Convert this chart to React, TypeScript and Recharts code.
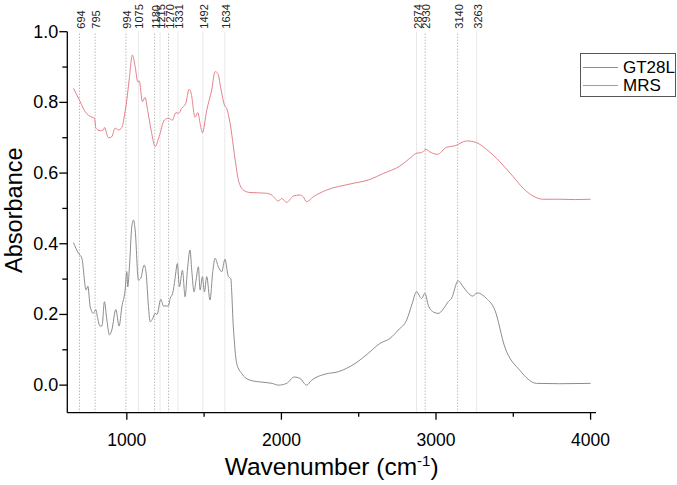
import { LineChart, Line, XAxis, YAxis, ReferenceLine, Legend, Label } from "recharts"

const FONT = '"Liberation Sans", Arial, Helvetica, sans-serif'

// assigned band positions (cm-1)
const peakMarks = [694, 795, 994, 1075, 1180, 1215, 1270, 1331, 1492, 1634, 2874, 2930, 3140, 3263]
const faintMarks = [1075, 1215, 1331, 1492, 1634, 2874, 3263]

const xTicks = [1000, 1500, 2000, 2500, 3000, 3500, 4000]
const xLabeled = [1000, 2000, 3000, 4000]
const yTicks = [0, 0.1, 0.2, 0.3, 0.4, 0.5, 0.6, 0.7, 0.8, 0.9, 1.0]

// MRS spectrum
const mrsWave = [
  655, 698, 730, 774, 791, 800, 827, 849, 855, 881, 903, 924, 946, 968, 985, 1000, 1015, 1036, 1054, 1071,
  1080, 1101, 1118, 1136, 1157, 1183, 1209, 1243, 1269, 1295, 1317, 1334, 1355, 1381, 1403, 1416, 1441, 1459,
  1474, 1489, 1517, 1549, 1571, 1588, 1610, 1631, 1646, 1668, 1700, 1722, 1754, 1797, 1905, 1937, 1980, 2002,
  2034, 2077, 2120, 2141, 2163, 2206, 2293, 2443, 2573, 2659, 2767, 2831, 2874, 2907, 2935, 2960, 3008, 3069,
  3122, 3198, 3262, 3327, 3413, 3499, 3564, 3628, 3693, 3801, 3900, 4000,
]
const mrsAbs = [
  0.840, 0.802, 0.774, 0.758, 0.755, 0.727, 0.720, 0.722, 0.729, 0.700, 0.703, 0.727, 0.722, 0.729, 0.764, 0.807,
  0.863, 0.934, 0.901, 0.858, 0.861, 0.802, 0.814, 0.774, 0.722, 0.675, 0.703, 0.750, 0.755, 0.750, 0.771, 0.769,
  0.783, 0.797, 0.837, 0.826, 0.758, 0.771, 0.741, 0.714, 0.778, 0.835, 0.887, 0.882, 0.835, 0.793, 0.783, 0.741,
  0.640, 0.580, 0.552, 0.545, 0.543, 0.538, 0.521, 0.528, 0.517, 0.535, 0.538, 0.533, 0.519, 0.533, 0.552, 0.569,
  0.582, 0.599, 0.620, 0.642, 0.656, 0.658, 0.667, 0.660, 0.653, 0.673, 0.677, 0.691, 0.686, 0.667, 0.632, 0.590,
  0.557, 0.535, 0.526, 0.526, 0.525, 0.526,
]

// GT28L spectrum
const gtWave = [
  655, 687, 709, 737, 748, 763, 784, 800, 810, 827, 840, 855, 871, 888, 903, 929, 950, 968, 989, 1000, 1006, 1017,
  1032, 1043, 1054, 1075, 1090, 1112, 1125, 1140, 1151, 1168, 1183, 1195, 1220, 1237, 1269, 1280, 1297, 1312,
  1327, 1340, 1360, 1377, 1392, 1409, 1420, 1435, 1448, 1463, 1474, 1489, 1502, 1517, 1538, 1556, 1571, 1592,
  1614, 1635, 1657, 1672, 1689, 1711, 1743, 1797, 1862, 1940, 1980, 2034, 2083, 2120, 2163, 2196, 2282, 2368,
  2476, 2562, 2637, 2702, 2756, 2810, 2846, 2874, 2907, 2928, 2950, 2982, 3014, 3058, 3079, 3100, 3143, 3176,
  3205, 3237, 3266, 3327, 3381, 3445, 3542, 3650, 3800, 4000,
]
const gtAbs = [
  0.403, 0.373, 0.359, 0.269, 0.280, 0.222, 0.203, 0.214, 0.192, 0.167, 0.168, 0.236, 0.184, 0.142, 0.156, 0.214,
  0.167, 0.222, 0.269, 0.321, 0.278, 0.335, 0.448, 0.467, 0.439, 0.297, 0.302, 0.340, 0.316, 0.222, 0.179, 0.189,
  0.203, 0.200, 0.243, 0.224, 0.224, 0.245, 0.260, 0.302, 0.344, 0.278, 0.325, 0.250, 0.325, 0.382, 0.325, 0.264,
  0.297, 0.335, 0.269, 0.307, 0.264, 0.307, 0.241, 0.321, 0.359, 0.335, 0.321, 0.356, 0.307, 0.302, 0.165, 0.061,
  0.033, 0.014, 0.009, 0.005, 0.000, 0.005, 0.023, 0.019, 0.000, 0.014, 0.031, 0.038, 0.061, 0.090, 0.118, 0.132,
  0.156, 0.184, 0.231, 0.264, 0.245, 0.260, 0.226, 0.207, 0.203, 0.222, 0.236, 0.245, 0.295, 0.278, 0.262, 0.252,
  0.261, 0.245, 0.212, 0.108, 0.042, 0.005, 0.004, 0.005,
]

const series = [
  { name: "GT28L", color: "#8c8c8c", data: gtWave.map((x, i) => ({ x, y: gtAbs[i] })) },
  { name: "MRS", color: "#e4808b", data: mrsWave.map((x, i) => ({ x, y: mrsAbs[i] })) },
]

function XTick({ x, y, payload }: any) {
  const major = xLabeled.includes(payload.value)
  return (
    <g>
      <line x1={x} x2={x} y1={y} y2={y + (major ? 7 : 4)} stroke="#000" strokeWidth={1.3} />
      {major && (
        <text x={x} y={y + 33} textAnchor="middle" fontSize={17.5} fontFamily={FONT} fill="#000">
          {payload.value}
        </text>
      )}
    </g>
  )
}

function YTick({ x, y, payload }: any) {
  const major = Math.round(payload.value * 10) % 2 === 0
  return (
    <g>
      <line x1={x - (major ? 8 : 5)} x2={x} y1={y} y2={y} stroke="#000" strokeWidth={1.3} />
      {major && (
        <text x={x - 9} y={y + 6} textAnchor="end" fontSize={18} fontFamily={FONT} fill="#000">
          {payload.value.toFixed(1)}
        </text>
      )}
    </g>
  )
}

function PeakLabel({ viewBox, value }: any) {
  if (!viewBox) return null
  const tx = viewBox.x + 5
  const ty = viewBox.y - 3
  return (
    <text x={tx} y={ty} transform={`rotate(-90 ${tx} ${ty})`} fontSize={11} fontFamily={FONT} fill="#222">
      {value}
    </text>
  )
}

function LegendBox() {
  return (
    <div
      style={{
        width: 96,
        height: 44,
        boxSizing: "border-box",
        border: "1px solid #555",
        background: "#fff",
        paddingTop: 4,
        fontFamily: FONT,
        fontSize: 17,
        color: "#000",
      }}
    >
      {series.map((s) => (
        <div key={s.name} style={{ display: "flex", alignItems: "center", height: 18 }}>
          <div style={{ width: 35, height: 1, background: s.color, marginLeft: 2, marginRight: 5 }} />
          <span style={{ lineHeight: "17px" }}>{s.name}</span>
        </div>
      ))}
    </div>
  )
}

export default function App() {
  return (
    <div style={{ position: "absolute", left: 0, top: 0, background: "#fff" }}>
      <LineChart width={677} height={485} margin={{ top: 31.7, right: 81, bottom: 42.3, left: 27.3 }}>
        <XAxis
          type="number"
          dataKey="x"
          domain={[615, 4035]}
          allowDataOverflow
          ticks={xTicks}
          tick={<XTick />}
          tickLine={false}
          tickSize={0}
          tickMargin={0}
          height={30}
          axisLine={{ stroke: "#000", strokeWidth: 1.3 }}
        >
          <Label
            content={({ viewBox }: any) => (
              <text
                x={viewBox.x + viewBox.width / 2}
                y={viewBox.y + 62}
                textAnchor="middle"
                fontSize={24.5}
                fontFamily={FONT}
                fill="#000"
              >
                <tspan>Wavenumber (cm</tspan>
                <tspan dy={-9} fontSize={15}>-1</tspan>
                <tspan dy={9}>)</tspan>
              </text>
            )}
          />
        </XAxis>
        <YAxis
          type="number"
          dataKey="y"
          domain={[-0.078, 1.0]}
          allowDataOverflow
          ticks={yTicks}
          tick={<YTick />}
          tickLine={false}
          tickSize={0}
          tickMargin={0}
          width={40}
          axisLine={{ stroke: "#000", strokeWidth: 1.3 }}
        >
          <Label
            content={({ viewBox }: any) => {
              const cx = 14
              const cy = viewBox.y + viewBox.height / 2 - 12
              return (
                <text
                  x={cx}
                  y={cy}
                  transform={`rotate(-90 ${cx} ${cy})`}
                  textAnchor="middle"
                  dominantBaseline="central"
                  fontSize={23.5}
                  fontFamily={FONT}
                  fill="#000"
                >
                  Absorbance
                </text>
              )
            }}
          />
        </YAxis>
        {peakMarks.map((w) => (
          <ReferenceLine
            key={w}
            x={w}
            stroke={faintMarks.includes(w) ? "#d2d2d2" : "#9c9c9c"}
            strokeDasharray={faintMarks.includes(w) ? "1 1" : "1 2"}
            strokeWidth={1}
            label={<PeakLabel value={w} />}
          />
        ))}
        {series.map((s) => (
          <Line
            key={s.name}
            data={s.data}
            dataKey="y"
            name={s.name}
            type="monotone"
            stroke={s.color}
            strokeWidth={1}
            dot={false}
            isAnimationActive={false}
          />
        ))}
        <Legend
          layout="horizontal"
          verticalAlign="middle"
          align="center"
          wrapperStyle={{ left: 580, top: 53, width: 96, height: 44 }}
          content={() => <LegendBox />}
        />
      </LineChart>
    </div>
  )
}
